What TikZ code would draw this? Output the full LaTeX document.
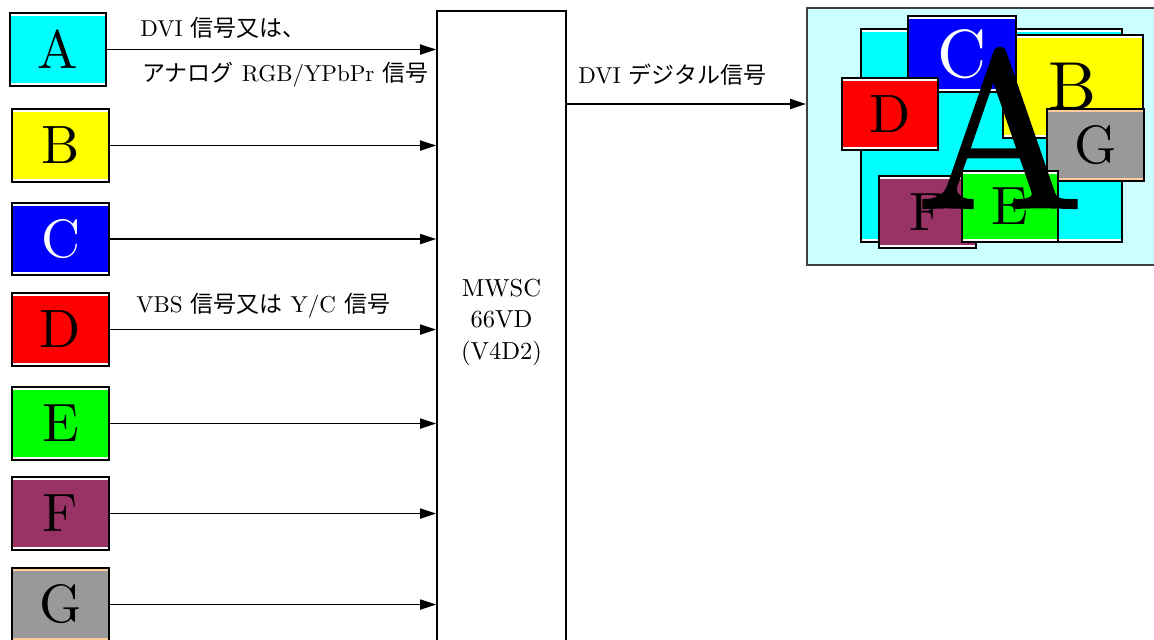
\documentclass[tikz,border=0pt]{standalone}
\usepackage{fontspec}
\setmainfont{lmroman10-regular.otf}
\newfontfamily\jp{Noto Sans CJK JP}
\newfontfamily\heavyA{lmroman10-regular.otf}[FakeBold=1.4]
\usetikzlibrary{arrows.meta}
\definecolor{tileA}{HTML}{00FFFF}
\definecolor{tileB}{HTML}{FFFF00}
\definecolor{tileC}{HTML}{0000FF}
\definecolor{tileD}{HTML}{FF0000}
\definecolor{tileE}{HTML}{00FF00}
\definecolor{tileF}{HTML}{993366}
\definecolor{tileG}{HTML}{999999}
\definecolor{stripG}{HTML}{FFCC99}
\definecolor{screenbg}{HTML}{CCFFFF}
\newcommand{\kj}[1]{\hspace{4pt}{\jp #1}\hspace{4pt}}
\tikzset{%
  tipA/.tip={Triangle[length=8pt,width=5pt]},
  tile/.style={draw=black, line width=0.8pt, inner sep=0pt,
    minimum width=48.5pt, minimum height=36.5pt,
    font=\fontsize{27}{27}\selectfont,
    path picture={
      \fill[#1] ([yshift=-0.4pt]path picture bounding box.north west) rectangle ([yshift=-1.4pt]path picture bounding box.north east);
      \fill[#1] ([yshift=0.4pt]path picture bounding box.south west) rectangle ([yshift=1.4pt]path picture bounding box.south east);
    }},
  tile/.default=white,
  sig/.style={font=\fontsize{11.5}{15.75}\selectfont, inner sep=0pt},
  feed/.style={line width=0.9pt, -tipA}
}
\begin{document}
\begin{tikzpicture}[x=0.5pt,y=-0.5pt]
\useasboundingbox (0,0) rectangle (1154,639);

% sources
\node[tile, fill=tileA, minimum width=48pt] (A) at (58,49.5) {A};
\node[tile, fill=tileB] (B) at (60.5,145.5) {B};
\node[tile, fill=tileC, text=white, minimum height=36pt] (C) at (60.5,239) {C};
\node[tile, fill=tileD] (D) at (60.5,329.5) {D};
\node[tile, fill=tileE] (E) at (60.5,423.5) {E};
\node[tile, fill=tileF] (F) at (60.5,513.5) {F};
\node[tile=stripG, fill=tileG] (G) at (60.5,604.5) {G};

% converter
\node[draw, line width=0.8pt, minimum width=64.5pt, minimum height=344.5pt] (mwsc) at (501.5,355.5) {};
\node[sig, align=center, font=\fontsize{12.3}{15.75}\selectfont] (chip) at (501.5,322) {MWSC\\66VD\\(V4D2)};

\draw[feed] (A.east) -- (A.east -| mwsc.west);
\draw[feed] (B.east) -- (B.east -| mwsc.west);
\draw[feed] (C.east) -- (C.east -| mwsc.west);
\draw[feed] (D.east) -- (D.east -| mwsc.west);
\draw[feed] (E.east) -- (E.east -| mwsc.west);
\draw[feed] (F.east) -- (F.east -| mwsc.west);
\draw[feed] (G.east) -- (G.east -| mwsc.west);

\node[sig, anchor=west] (sigA) at (140,28) {DVI\kj{信号又は、}};
\node[sig, anchor=west] (sigAb) at (142,75) {{\jp アナログ}\hspace{4pt}RGB/YPbPr\kj{信号}};
\node[sig, anchor=west] (sigD) at (136,306) {VBS\kj{信号又は}Y/C\kj{信号}};

% monitor
\node[draw=black!75, fill=screenbg, line width=1pt, minimum width=181.5pt, minimum height=128.5pt] (mon) at (988.5,136.5) {};
\coordinate (dviout) at (566,104);
\draw[feed] (dviout) -- (dviout -| mon.west);
\node[sig, anchor=west] (sigOut) at (578,75) {DVI\kj{デジタル信号}};

\node[tile, fill=tileA, minimum width=130.5pt, minimum height=106.5pt] (scrA) at (991.5,135.5) {};
\node[tile, fill=tileB, minimum width=70pt, minimum height=51.5pt, font=\fontsize{34}{34}\selectfont] (mB) at (1073,86.5) {B};
\node[tile, fill=tileC, text=white, minimum width=54pt, minimum height=38pt, font=\fontsize{34}{34}\selectfont] (mC) at (962,54) {C};
\node[tile, fill=tileD, minimum width=48pt, minimum height=36pt] (mD) at (890,114) {D};
\node[tile=stripG, fill=tileG, minimum height=36pt] (mG) at (1095.5,145) {G};
\node[tile, fill=tileF, minimum height=36pt] (mF) at (927.5,212) {F};
\node[tile, fill=tileE, minimum width=48pt, minimum height=35.5pt] (mE) at (1010,206.5) {E};
\node[inner sep=0pt, anchor=base, font=\heavyA\fontsize{111}{111}\selectfont] (mA) at (1000,207.5) {A};
\end{tikzpicture}
\end{document}
